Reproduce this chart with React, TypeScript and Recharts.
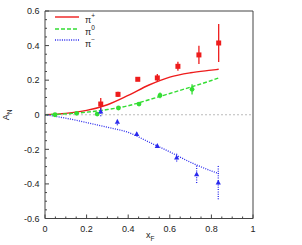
import {
  ComposedChart,
  Line,
  Scatter,
  ErrorBar,
  XAxis,
  YAxis,
  ReferenceLine,
  Legend,
} from 'recharts';

// tick positions (labels only on multiples of 0.2)
const xTicks = [0, 0.05, 0.1, 0.15, 0.2, 0.25, 0.3, 0.35, 0.4, 0.45, 0.5, 0.55, 0.6, 0.65, 0.7, 0.75, 0.8, 0.85, 0.9, 0.95, 1];
const yTicks = [-0.6, -0.55, -0.5, -0.45, -0.4, -0.35, -0.3, -0.25, -0.2, -0.15, -0.1, -0.05, 0, 0.05, 0.1, 0.15, 0.2, 0.25, 0.3, 0.35, 0.4, 0.45, 0.5, 0.55, 0.6];

// measured points
const plusX = [0.268, 0.351, 0.446, 0.54, 0.639, 0.74, 0.835];
const plusY = [0.062, 0.118, 0.205, 0.213, 0.28, 0.346, 0.415];
const plusErr = [0.035, 0.015, 0.01, 0.023, 0.026, 0.053, 0.11];

const zeroX = [0.048, 0.152, 0.251, 0.353, 0.452, 0.553, 0.707];
const zeroY = [0.0, 0.008, 0.004, 0.039, 0.062, 0.112, 0.147];
const zeroErr = [0.004, 0.005, 0.006, 0.006, 0.008, 0.016, 0.03];

const minusX = [0.268, 0.348, 0.441, 0.54, 0.633, 0.729, 0.833];
const minusY = [0.019, -0.041, -0.112, -0.18, -0.247, -0.344, -0.392];
const minusErr = [0.027, 0.02, 0.01, 0.012, 0.024, 0.05, 0.097];

// model curves
const curveX = [0, 0.1, 0.2, 0.3, 0.4, 0.5, 0.6, 0.7, 0.8, 0.835];
const curvePlus = [0, 0.008, 0.025, 0.058, 0.112, 0.172, 0.218, 0.243, 0.258, 0.263];
const curveZero = [0, 0.005, 0.015, 0.03, 0.052, 0.087, 0.123, 0.16, 0.198, 0.213];
const curveMinus = [0, -0.02, -0.045, -0.072, -0.102, -0.158, -0.215, -0.275, -0.325, -0.34];

const RED = '#ee1c1c';
const GREEN = '#33dd33';
const BLUE = '#2a2aee';
const AXIS = '#444';
const TEXT = '#222';
const FONT = '"Liberation Sans", Arial, sans-serif';

const pts = (xs: number[], ys: number[], es: number[]) =>
  xs.map((x, i) => ({ x, y: ys[i], err: es[i] }));
const curve = (ys: number[]) => curveX.map((x, i) => ({ x, y: ys[i] }));

const isMajor = (v: number) => Math.abs(v * 5 - Math.round(v * 5)) < 1e-6;
const fmt = (v: number) => String(Number(v.toFixed(1)));

function BottomTick({ x, y, payload }: any) {
  const major = isMajor(payload.value);
  return (
    <g>
      <line x1={x} x2={x} y1={y} y2={y - (major ? 4 : 2)} stroke={AXIS} />
      {major && (
        <text x={x} y={y + 13} textAnchor="middle" fontSize={9} fill={TEXT} fontFamily={FONT}>
          {fmt(payload.value)}
        </text>
      )}
    </g>
  );
}

function TopTick({ x, y, payload }: any) {
  const major = isMajor(payload.value);
  return <line x1={x} x2={x} y1={y} y2={y + (major ? 4 : 2)} stroke={AXIS} />;
}

function LeftTick({ x, y, payload }: any) {
  const major = isMajor(payload.value);
  return (
    <g>
      <line x1={x} x2={x + (major ? 4 : 2)} y1={y} y2={y} stroke={AXIS} />
      {major && (
        <text x={x - 5.5} y={y + 3.2} textAnchor="end" fontSize={9} fill={TEXT} fontFamily={FONT}>
          {fmt(payload.value)}
        </text>
      )}
    </g>
  );
}

function RightTick({ x, y, payload }: any) {
  const major = isMajor(payload.value);
  return <line x1={x} x2={x - (major ? 4 : 2)} y1={y} y2={y} stroke={AXIS} />;
}

const Square = ({ cx, cy }: any) => (
  <rect x={cx - 2.5} y={cy - 2.5} width={5} height={5} fill={RED} />
);
const Dot = ({ cx, cy }: any) => <circle cx={cx} cy={cy} r={2.4} fill={GREEN} />;
const Tri = ({ cx, cy }: any) => (
  <polygon points={`${cx},${cy - 2.8} ${cx + 2.6},${cy + 2} ${cx - 2.6},${cy + 2}`} fill={BLUE} />
);

function LegendBox({ payload }: any) {
  const items = (payload || []).filter((p: any) => p.type !== 'none');
  return (
    <div style={{ fontFamily: FONT, fontSize: 9, color: TEXT }}>
      {items.map((p: any) => (
        <div key={p.value} style={{ display: 'flex', alignItems: 'center', height: 11.8 }}>
          <svg width={24} height={6}>
            <line
              x1={0}
              x2={24}
              y1={3}
              y2={3}
              stroke={p.color}
              strokeWidth={1.4}
              strokeDasharray={p.payload?.strokeDasharray}
            />
          </svg>
          <span style={{ marginLeft: 6, position: 'relative', top: 2 }}>
            {p.value.slice(0, 1)}
            <sup style={{ fontSize: 6.5, position: 'relative', top: -1 }}>{p.value.slice(1)}</sup>
          </span>
        </div>
      ))}
    </div>
  );
}

export default function App() {
  return (
    <div style={{ position: 'absolute', left: 0, top: 0, width: 302, height: 245, background: '#fff' }}>
      <ComposedChart
        width={302}
        height={245}
        margin={{ top: 6, right: 40, bottom: 6.5, left: 5 }}
      >
        <XAxis
          dataKey="x"
          type="number"
          domain={[0, 1]}
          ticks={xTicks}
          interval={0}
          height={20}
          tickLine={false}
          tickSize={0}
          tickMargin={0}
          tick={<BottomTick />}
          stroke={AXIS}
          allowDuplicatedCategory={false}
        />
        <XAxis
          xAxisId="top"
          orientation="top"
          type="number"
          domain={[0, 1]}
          ticks={xTicks}
          interval={0}
          height={5}
          tickLine={false}
          tickSize={0}
          tickMargin={0}
          tick={<TopTick />}
          stroke={AXIS}
        />
        <YAxis
          type="number"
          domain={[-0.6, 0.6]}
          ticks={yTicks}
          interval={0}
          width={40}
          tickLine={false}
          tickSize={0}
          tickMargin={0}
          tick={<LeftTick />}
          stroke={AXIS}
        />
        <YAxis
          yAxisId="right"
          orientation="right"
          type="number"
          domain={[-0.6, 0.6]}
          ticks={yTicks}
          interval={0}
          width={9}
          tickLine={false}
          tickSize={0}
          tickMargin={0}
          tick={<RightTick />}
          stroke={AXIS}
        />
        <ReferenceLine y={0} stroke="#bbb" strokeDasharray="2 2" strokeWidth={1} />
        <Legend
          content={<LegendBox />}
          layout="horizontal"
          align="center"
          verticalAlign="middle"
          wrapperStyle={{ left: 55, top: 11, width: 60, height: 36 }}
        />
        <Line
          data={curve(curvePlus)}
          dataKey="y"
          name="π+"
          type="monotone"
          stroke={RED}
          strokeWidth={1.4}
          dot={false}
          activeDot={false}
          isAnimationActive={false}
        />
        <Line
          data={curve(curveZero)}
          dataKey="y"
          name="π0"
          type="monotone"
          stroke={GREEN}
          strokeWidth={1.4}
          strokeDasharray="4 2"
          dot={false}
          activeDot={false}
          isAnimationActive={false}
        />
        <Line
          data={curve(curveMinus)}
          dataKey="y"
          name="π−"
          type="monotone"
          stroke={BLUE}
          strokeWidth={1.3}
          strokeDasharray="1 1.3"
          dot={false}
          activeDot={false}
          isAnimationActive={false}
        />
        <Scatter
          data={pts(plusX, plusY, plusErr)}
          dataKey="y"
          shape={<Square />}
          legendType="none"
          isAnimationActive={false}
        >
          <ErrorBar dataKey="err" direction="y" width={0} stroke={RED} strokeWidth={1.3} />
        </Scatter>
        <Scatter
          data={pts(zeroX, zeroY, zeroErr)}
          dataKey="y"
          shape={<Dot />}
          legendType="none"
          isAnimationActive={false}
        >
          <ErrorBar dataKey="err" direction="y" width={0} stroke={GREEN} strokeWidth={1.3} />
        </Scatter>
        <Scatter
          data={pts(minusX, minusY, minusErr)}
          dataKey="y"
          shape={<Tri />}
          legendType="none"
          isAnimationActive={false}
        >
          <ErrorBar
            dataKey="err"
            direction="y"
            width={0}
            stroke={BLUE}
            strokeWidth={1.3}
            strokeDasharray="1 1.3"
          />
        </Scatter>
      </ComposedChart>
      <div
        style={{
          position: 'absolute',
          left: 7,
          top: 115,
          transform: 'translate(-50%, -50%) rotate(-90deg)',
          fontFamily: FONT,
          fontSize: 9,
          color: TEXT,
          whiteSpace: 'nowrap',
        }}
      >
        A<sub style={{ fontSize: 6.5 }}>N</sub>
      </div>
      <div
        style={{
          position: 'absolute',
          left: 146,
          top: 230,
          fontFamily: FONT,
          fontSize: 9,
          color: TEXT,
          whiteSpace: 'nowrap',
        }}
      >
        x<sub style={{ fontSize: 6.5 }}>F</sub>
      </div>
    </div>
  );
}
